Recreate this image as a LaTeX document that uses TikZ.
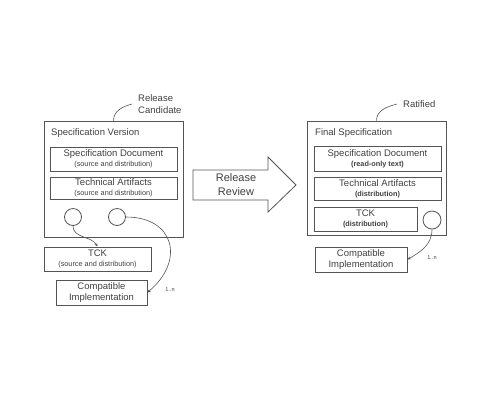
\documentclass[tikz,border=0pt]{standalone}
\usepackage{fontspec}
\setmainfont{Liberation Sans}
\usetikzlibrary{arrows.meta}
\definecolor{LineClr}{rgb}{0.33,0.33,0.33}
\definecolor{TextClr}{rgb}{0.25,0.25,0.25}
\newcommand\subtxt[1]{{\fontsize{7.3}{8}\selectfont #1}}

\begin{document}
\begin{tikzpicture}[x=1pt,y=-1pt,
  box/.style={draw=LineClr,line width=0.8pt,rectangle,inner sep=0pt,align=center,text=TextClr,font=\fontsize{9.5}{10}\selectfont},
  ring/.style={draw=LineClr,line width=0.8pt,circle,minimum size=17pt,inner sep=0pt},
  lbl/.style={text=TextClr,font=\fontsize{9.5}{12.5}\selectfont,inner sep=0pt,align=left},
  mult/.style={text=TextClr,font=\fontsize{5.5}{6}\selectfont,inner sep=0pt},
  link/.style={draw=LineClr,line width=0.6pt,-{Stealth[length=3.5pt,width=3pt]}},
  tag/.style={draw=LineClr,line width=0.6pt}]
\useasboundingbox (0,0) rectangle (500,400);

\node[box,minimum width=139pt,minimum height=116pt] (lv) at (113.5,179) {};
\node[lbl,anchor=west] (lvt) at (51,133) {Specification Version};
\node[box,minimum width=127pt,minimum height=24pt] (lsd) at (113.5,159) {Specification Document\\\subtxt{(source and distribution)}};
\node[box,minimum width=127pt,minimum height=22pt] (lta) at (113.5,188) {Technical Artifacts\\\subtxt{(source and distribution)}};
\node[ring] (lc1) at (73,217) {};
\node[ring] (lc2) at (117,217) {};
\node[box,minimum width=107pt,minimum height=24pt] (ltck) at (97.5,259) {TCK\\\subtxt{(source and distribution)}};
\node[box,font=\fontsize{9.5}{11.5}\selectfont,minimum width=91pt,minimum height=25pt] (lci) at (101.5,292.5) {Compatible\\Implementation};
\node[mult] (lm) at (170,290) {1..n};
\node[lbl,anchor=west,inner xsep=6pt] (rcand) at (132,104) {Release\\Candidate};

\draw[tag] (rcand.west) to[out=195,in=90] (lv.north);
\draw[link] (lc1.south) to[out=-90,in=120] (ltck.north);
\draw[link] (lc2.east) to[out=0,in=40,looseness=1.6] (lci.east);

\draw[LineClr,line width=0.8pt] (193,170) -- (268,170) -- (268,157) -- (296,185) -- (268,212) -- (268,200) -- (193,200) -- cycle;
\node[text=TextClr,font=\fontsize{11}{14}\selectfont,align=center,inner sep=0pt] (rr) at (236,185) {Release\\Review};

\node[box,minimum width=139pt,minimum height=114pt] (rv) at (376.5,178) {};
\node[lbl,anchor=west] (rvt) at (315,133) {Final Specification};
\node[box,minimum width=127pt,minimum height=25pt] (rsd) at (377.5,158.5) {Specification Document\\\subtxt{\textbf{(read-only text)}}};
\node[box,minimum width=127pt,minimum height=23pt] (rta) at (377.5,188.5) {Technical Artifacts\\\subtxt{\textbf{(distribution)}}};
\node[box,minimum width=103pt,minimum height=24pt] (rtck) at (365.5,219) {TCK\\\subtxt{\textbf{(distribution)}}};
\node[ring,minimum size=18pt] (rc1) at (432,220) {};
\node[box,font=\fontsize{9.5}{11.5}\selectfont,minimum width=92pt,minimum height=25pt] (rci) at (361,259.5) {Compatible\\Implementation};
\node[mult] (rm) at (432,258) {1..n};
\node[lbl,anchor=west,inner xsep=6pt] (rrat) at (397,104) {Ratified};

\draw[tag] (rrat.west) to[out=195,in=90] (rv.north);
\draw[link] (rc1.south) to[out=-90,in=30] (rci.east);
\end{tikzpicture}
\end{document}
